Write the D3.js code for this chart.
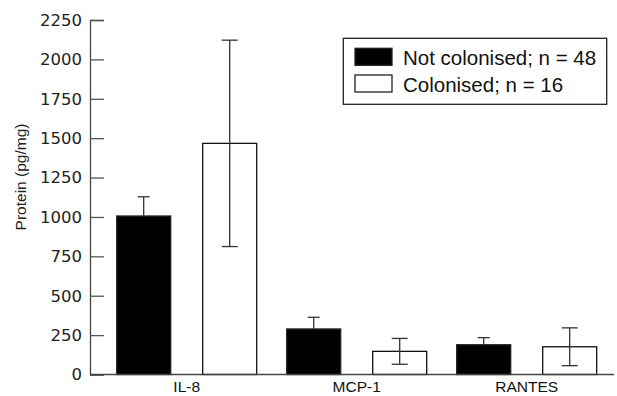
<!DOCTYPE html>
<html>
<head>
<meta charset="utf-8">
<script src="https://cdn.jsdelivr.net/npm/d3@7"></script>
<style>
  body { margin: 0; background: #fff; }
  svg { display: block; }
</style>
</head>
<body>
<div id="chart"></div>
<script>
var width = 617;
var height = 396;

// data
var categories = ["IL-8", "MCP-1", "RANTES"];
var groups = ["Not colonised; n = 48", "Colonised; n = 16"];
var notColonised = [1006, 289, 189];
var notColonisedErr = [122, 74, 45];
var colonised = [1467, 147, 176];
var colonisedErr = [655, 82, 120];
var yTicks = [0, 250, 500, 750, 1000, 1250, 1500, 1750, 2000, 2250];

var font = "Liberation Sans, Arial, sans-serif";
var numFont = "DejaVu Sans, sans-serif";

var svg = d3.select("#chart")
    .append("svg")
    .attr("width", width)
    .attr("height", height)
    .attr("font-family", font);

var y = d3.scaleLinear()
    .domain([0, 2250])
    .range([374.5, 20]);

var x0 = d3.scaleBand()
    .domain(categories)
    .range([101.7, 611.7])
    .padding(0);

var x1 = d3.scaleBand()
    .domain([0, 1])
    .range([15, 155])
    .paddingInner(0.372)
    .paddingOuter(0);

var rows = categories.map(function(c, i) {
  return [
    {cat: c, s: 0, value: notColonised[i], err: notColonisedErr[i]},
    {cat: c, s: 1, value: colonised[i], err: colonisedErr[i]}
  ];
});
var bars = d3.merge(rows);

// y axis (ticks point inward)
var yAxis = svg.append("g")
    .attr("transform", "translate(90,0)")
    .call(d3.axisRight(y).tickValues(yTicks).tickSize(14).tickFormat(""));
yAxis.select(".domain").attr("stroke", "#444").attr("stroke-width", 1.3);
yAxis.selectAll(".tick line").attr("stroke", "#555").attr("stroke-width", 1.3);

svg.append("g").selectAll("text")
    .data(yTicks)
    .enter().append("text")
      .attr("x", 82)
      .attr("y", function(d) { return y(d); })
      .attr("dy", "0.36em")
      .attr("text-anchor", "end")
      .attr("font-family", numFont)
      .attr("font-size", 16.5)
      .attr("fill", "#222")
      .text(function(d) { return d; });

svg.append("text")
    .attr("transform", "translate(25.5," + 177 + ") rotate(-90)")
    .attr("text-anchor", "middle")
    .attr("font-size", 15.5)
    .attr("fill", "#222")
    .text("Protein (pg/mg)");

// bars
var g = svg.append("g");

g.selectAll("rect.bar")
    .data(bars)
    .enter().append("rect")
      .attr("class", "bar")
      .attr("x", function(d) { return x0(d.cat) + x1(d.s); })
      .attr("y", function(d) { return y(d.value); })
      .attr("width", x1.bandwidth())
      .attr("height", function(d) { return y(0) - y(d.value); })
      .attr("fill", function(d) { return d.s === 0 ? "#000" : "#fff"; })
      .attr("stroke", function(d) { return d.s === 0 ? "#222" : "#111"; })
      .attr("stroke-width", 1.3);

// error bars: upper only for filled bars, both ways for open bars
var eb = g.selectAll("g.err")
    .data(bars)
    .enter().append("g")
      .attr("class", "err")
      .attr("stroke", "#333")
      .attr("stroke-width", 1.3)
      .attr("transform", function(d) {
        return "translate(" + (x0(d.cat) + x1(d.s) + x1.bandwidth() / 2) + ",0)";
      });

eb.append("line")
    .attr("y1", function(d) { return y(d.value + d.err); })
    .attr("y2", function(d) { return d.s === 0 ? y(d.value) : y(d.value - d.err); });

eb.append("line")
    .attr("x1", function(d) { return d.s === 0 ? -6 : -8; })
    .attr("x2", function(d) { return d.s === 0 ? 6 : 8; })
    .attr("y1", function(d) { return y(d.value + d.err); })
    .attr("y2", function(d) { return y(d.value + d.err); });

eb.filter(function(d) { return d.s === 1; })
  .append("line")
    .attr("x1", -8)
    .attr("x2", 8)
    .attr("y1", function(d) { return y(d.value - d.err); })
    .attr("y2", function(d) { return y(d.value - d.err); });

// baseline
svg.append("line")
    .attr("x1", 90)
    .attr("x2", 614)
    .attr("y1", y(0))
    .attr("y2", y(0))
    .attr("stroke", "#444")
    .attr("stroke-width", 1.3);

svg.append("g").selectAll("text")
    .data(categories)
    .enter().append("text")
      .attr("x", function(d) { return x0(d) + x0.bandwidth() / 2; })
      .attr("y", 392)
      .attr("text-anchor", "middle")
      .attr("font-size", 15.5)
      .attr("fill", "#111")
      .text(function(d) { return d; });

// legend
var legend = svg.append("g");
legend.append("rect")
    .attr("x", 343.3)
    .attr("y", 38.3)
    .attr("width", 263.4)
    .attr("height", 66)
    .attr("fill", "#fff")
    .attr("stroke", "#222")
    .attr("stroke-width", 1.3);

var item = legend.selectAll("g.item")
    .data(groups)
    .enter().append("g")
      .attr("class", "item")
      .attr("transform", function(d, i) { return "translate(355," + (48.3 + i * 26.7) + ")"; });

item.append("rect")
    .attr("width", 37)
    .attr("height", 17)
    .attr("fill", function(d, i) { return i === 0 ? "#000" : "#fff"; })
    .attr("stroke", "#222")
    .attr("stroke-width", 1.3);

item.append("text")
    .attr("x", 48)
    .attr("y", 17)
    .attr("font-size", 20.5)
    .attr("fill", "#111")
    .text(function(d) { return d; });
</script>
</body>
</html>
